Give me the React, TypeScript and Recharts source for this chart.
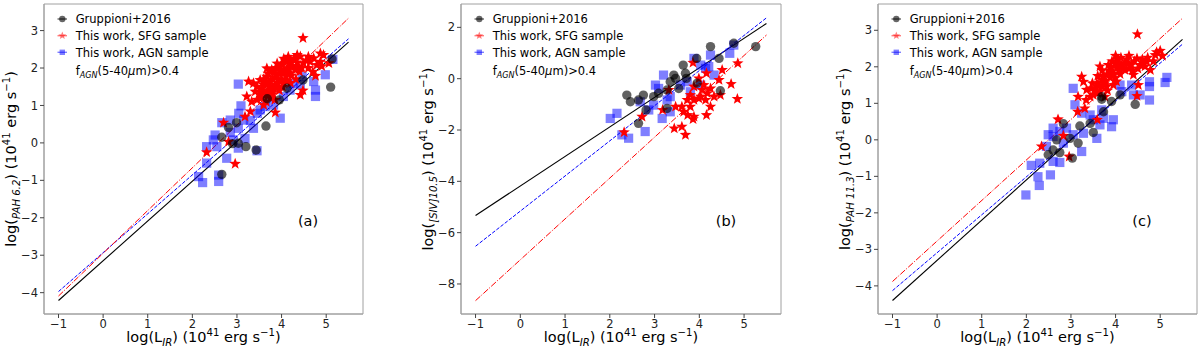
import React from 'react';
import { ComposedChart, Scatter, XAxis, YAxis, ReferenceLine, ReferenceArea } from 'recharts';

type P = [number, number];

// ---------- Panel (a): PAH 6.2 ----------
const gruppioniA: P[] = [
  [5.13, 2.24], [5.1, 1.49], [4.48, 1.68], [4.12, 1.46], [3.95, 1.15], [3.68, 1.18], [3.65, 0.45],
  [2.99, 0.54], [2.81, 0.41], [2.66, 0.15], [3.03, -0.01], [3.2, -0.1], [3.43, -0.19], [2.66, -0.84], [2.9, -0.02],
];
const sfgA: P[] = [
  [4.48, 2.8], [3.26, 1.64], [3.22, 1.24], [3.18, 0.7], [3.3, 0.84], [3.67, 1.99], [2.7, 0.54], [2.32, -0.25],
  [2.96, -0.56], [2.81, 0.03], [4.42, 1.28], [4.48, 1.4], [3.86, 0.81], [4.76, 1.79], [4.94, 2.35], [4.87, 2.17],
  [4.79, 2.08], [4.64, 2.17], [4.42, 2.31], [4.38, 2.04], [4.19, 2.13], [4.04, 1.86], [3.93, 1.68], [3.75, 1.5],
  [3.6, 1.33], [3.45, 1.15], [3.37, 1.59], [3.52, 1.68], [3.67, 1.77], [3.82, 1.9], [3.97, 2.04], [4.12, 2.17],
  [4.27, 2.22], [3.9, 1.5], [4.04, 1.59], [3.78, 1.28], [3.41, 1.37], [3.33, 1.1], [3.6, 1.01], [4.19, 1.86],
  [4.31, 1.95], [4.49, 2.13], [4.72, 2.26], [4.87, 2.39], [5.06, 2.13], [3.85, 1.75], [3.95, 1.85], [4.05, 1.95],
  [4.15, 2.0], [3.75, 1.65], [3.7, 1.4], [3.85, 1.55], [4.0, 1.7], [4.1, 1.78], [4.25, 2.05], [3.6, 1.55],
  [3.95, 1.4], [4.2, 1.6], [3.55, 1.2], [3.65, 1.1], [4.35, 2.15], [4.6, 2.0], [4.7, 1.9], [4.9, 2.05], [3.8, 1.35],
  [3.5, 1.3], [3.55, 1.45], [3.6, 1.7], [3.65, 1.6], [3.7, 1.85], [3.72, 1.5], [3.78, 1.95], [3.8, 1.7],
  [3.82, 1.45], [3.88, 2.0], [3.9, 1.8], [3.92, 1.6], [3.98, 1.95], [4.0, 2.1], [4.02, 1.5], [4.08, 2.2],
  [4.1, 1.9], [4.12, 1.65], [4.18, 2.05], [4.22, 1.8], [4.28, 2.25], [4.32, 1.7], [4.4, 1.9], [4.45, 2.0],
  [4.55, 2.2], [3.68, 1.25], [3.75, 1.2], [3.85, 1.15], [3.58, 1.4], [3.45, 1.5], [4.15, 2.3], [4.35, 2.35],
  [4.6, 2.3], [4.05, 2.25], [3.9, 2.12],
];
const agnA: P[] = [
  [3.03, 1.57], [3.09, 0.99], [3.04, 0.79], [2.85, 0.61], [2.66, 0.54], [2.51, 0.21], [2.85, 0.28], [3.03, 0.39],
  [3.15, 0.61], [3.37, 0.39], [3.3, 0.6], [3.46, 0.79], [3.63, 0.97], [3.97, 0.66], [2.32, -0.1], [2.55, -0.1],
  [2.77, -0.41], [3.03, -0.14], [2.32, -0.54], [2.14, -0.9], [2.23, -1.06], [2.59, -1.03], [2.59, -0.86],
  [3.45, -0.21], [3.18, 0.12], [4.27, 1.59], [4.46, 1.77], [4.72, 1.64], [4.76, 1.41], [4.76, 1.24], [4.98, 1.82],
  [5.15, 2.23], [3.82, 1.01], [4.04, 1.24], [4.19, 1.41], [4.42, 1.55], [3.52, 0.88], [2.92, 0.08], [2.47, 0.08],
];
const fitBlackA: P = [-4.21, 2.69];
const fitBlueA: P = [-3.97, 2.78];
const fitRedA: P = [-4.09, 3.33];

// ---------- Panel (b): [SIV] 10.5 ----------
const gruppioniB: P[] = [
  [4.25, 1.25], [4.77, 1.38], [5.26, 1.25], [4.44, 0.79], [3.94, 0.79], [3.64, 0.53], [3.43, 0.14], [3.71, 0.01],
  [3.54, -0.38], [3.95, -0.18], [4.47, -0.47], [3.28, -0.44], [3.09, -0.57], [2.75, -0.64], [2.64, -0.83],
  [2.38, -0.64], [2.46, -0.9], [2.81, -1.22], [2.64, -1.74], [3.28, -1.16], [3.35, -0.12], [3.69, 0.21],
  [2.98, -0.7], [3.47, 0.01],
];
const sfgB: P[] = [
  [3.86, 0.62], [4.86, 0.6], [4.51, 0.34], [4.16, 0.21], [3.99, 0.01], [4.44, -0.05], [4.71, -0.21], [4.1, -0.25],
  [3.88, -0.31], [4.06, -0.44], [4.25, -0.38], [4.33, -0.7], [4.47, -0.64], [4.85, -0.79], [4.25, -1.09],
  [4.03, -0.7], [3.88, -0.83], [3.73, -0.83], [3.61, -1.09], [3.47, -1.09], [3.65, -1.29], [3.74, -1.42],
  [3.88, -1.48], [3.86, -1.58], [4.16, -1.42], [3.44, -1.94], [3.61, -1.87], [3.69, -2.19], [3.18, -1.22],
  [2.72, -1.48], [2.32, -2.09], [3.32, -0.44], [3.8, -0.64], [3.99, -0.77], [4.14, -0.83], [4.18, -0.57], [3.8, -1.09],
];
const agnB: P[] = [
  [4.25, 0.92], [4.68, 0.99], [4.77, 1.31], [3.88, 0.79], [4.03, 0.53], [4.21, 0.47], [4.33, 0.14], [3.2, 0.14],
  [3.02, -0.25], [3.58, -0.25], [3.8, -0.51], [3.35, -0.7], [2.98, -1.03], [2.68, -0.9], [2.87, -1.22],
  [3.17, -1.55], [3.35, -1.29], [2.01, -1.55], [2.16, -1.35], [2.79, -2.06], [2.27, -2.19], [2.42, -2.32],
  [3.73, -0.12], [4.03, -0.25], [4.14, 0.4], [3.09, -0.38], [3.28, -0.83],
];
const fitBlackB: P = [-5.33, 2.15];
const fitBlueB: P = [-6.53, 2.37];
const fitRedB: P = [-8.65, 1.7];

// ---------- Panel (c): PAH 11.3 ----------
const gruppioniC: P[] = [
  [4.44, 0.97], [4.1, 1.23], [3.69, 1.11], [3.91, 1.05], [3.73, 0.77], [3.43, 0.45], [3.5, 0.2], [3.2, 0.38],
  [2.83, 0.44], [2.68, 0.0], [2.98, 0.04], [3.16, -0.09], [2.75, -0.35], [2.49, -0.41], [3.03, -0.5], [2.6, -0.28],
  [3.69, 1.18],
];
const sfgC: P[] = [
  [4.49, 2.89], [5.0, 2.44], [4.89, 2.32], [4.7, 2.14], [4.48, 2.23], [4.29, 2.1], [4.14, 2.05], [4.03, 1.96],
  [3.91, 1.87], [3.8, 1.78], [3.69, 1.64], [3.58, 1.55], [3.46, 1.41], [3.35, 1.37], [3.65, 2.01], [3.84, 2.05],
  [4.06, 2.19], [4.21, 1.91], [4.4, 1.78], [3.99, 1.69], [3.8, 1.46], [3.65, 1.32], [3.5, 1.23], [3.76, 1.18],
  [3.95, 1.5], [3.28, 1.59], [3.24, 1.73], [3.16, 1.18], [3.34, 1.09], [3.31, 0.86], [3.15, 0.77], [3.59, 0.55],
  [2.71, 0.56], [2.83, 0.11], [2.34, -0.18], [2.96, -0.46], [4.48, 1.2], [4.78, 1.91], [4.51, 1.5], [4.66, 2.01],
  [3.43, 1.18], [3.9, 2.0], [4.1, 1.8], [4.2, 2.1], [3.7, 1.9], [4.0, 2.1], [4.3, 1.95], [4.55, 2.05],
  [3.6, 1.75], [3.75, 1.55], [4.6, 2.2], [4.85, 2.15], [5.05, 2.3],
  [3.55, 1.4], [3.62, 1.5], [3.7, 1.45], [3.72, 1.72], [3.78, 1.62], [3.85, 1.9], [3.88, 1.7], [3.92, 2.15],
  [3.95, 1.8], [4.02, 1.6], [4.05, 2.0], [4.08, 1.88], [4.12, 2.25], [4.18, 1.95], [4.25, 2.2], [4.35, 2.05],
  [4.38, 1.9], [4.42, 2.15], [4.5, 1.95], [4.62, 2.1], [4.72, 2.25], [4.92, 2.4], [3.6, 1.28], [3.82, 1.35],
  [3.48, 1.55], [3.52, 1.35], [4.3, 2.3], [4.0, 2.3],
];
const agnC: P[] = [
  [5.15, 1.71], [5.11, 1.57], [4.76, 1.59], [4.76, 1.46], [4.76, 1.09], [4.55, 1.23], [4.4, 1.23], [4.14, 1.32],
  [4.1, 1.5], [4.36, 1.5], [3.05, 1.41], [3.09, 0.96], [3.24, 0.73], [3.43, 0.68], [3.5, 0.55], [3.73, 0.59],
  [3.95, 0.55], [3.91, 0.36], [3.58, 0.04], [3.28, 0.18], [3.05, 0.14], [2.9, 0.32], [2.75, 0.23], [2.6, 0.32],
  [2.49, 0.14], [2.6, 0.09], [3.24, -0.32], [2.6, -0.59], [2.75, -0.62], [2.3, -0.64], [2.11, -0.7], [2.26, -1.01],
  [2.54, -0.96], [2.29, -1.25], [1.99, -1.51], [2.45, -0.18], [2.83, -0.09], [3.65, 0.41], [3.69, 0.82],
];
const fitBlackC: P = [-4.4, 2.75];
const fitBlueC: P = [-4.13, 2.62];
const fitRedC: P = [-3.88, 3.33];

// ---------- shared ----------
const fitX: P = [-1, 5.5];
const xDomain: P = [-1.325, 5.825];
const xTicks = [-1, 0, 1, 2, 3, 4, 5];
const yTicksA = [-4, -3, -2, -1, 0, 1, 2, 3];
const yTicksB = [-8, -6, -4, -2, 0, 2];
const yTicksC = [-4, -3, -2, -1, 0, 1, 2, 3];
const legendLabels = ['Gruppioni+2016', 'This work, SFG sample', 'This work, AGN sample'];
const panelLetters = ['(a)', '(b)', '(c)'];
const ySubs = ['PAH 6.2', '[SIV]10.5', 'PAH 11.3'];

const FONT = "'DejaVu Sans', sans-serif";
const toObj = (a: P[]) => a.map(([x, y]) => ({ x, y }));

const starPath = (cx: number, cy: number, R: number, r: number) => {
  let d = '';
  for (let i = 0; i < 10; i++) {
    const rad = i % 2 === 0 ? R : r;
    const ang = -Math.PI / 2 + (i * Math.PI) / 5;
    d += (i === 0 ? 'M' : 'L') + (cx + rad * Math.cos(ang)).toFixed(2) + ',' + (cy + rad * Math.sin(ang)).toFixed(2);
  }
  return d + 'Z';
};

const CircleShape = (p: any) => <circle cx={p.cx} cy={p.cy} r={4.7} fill="#000" fillOpacity={0.62} />;
const SquareShape = (p: any) => (
  <rect x={p.cx - 4.6} y={p.cy - 4.6} width={9.2} height={9.2} fill="#0000ff" fillOpacity={0.5} />
);
const StarShape = (p: any) => <path d={starPath(p.cx, p.cy, 6, 2.5)} fill="#ff0000" />;

const fmt = (v: number) => (v < 0 ? `\u2212${Math.abs(v)}` : `${v}`);

type Part = { t: string; k?: 'sub' | 'sup'; i?: boolean };
const Rich = ({ parts, fs }: { parts: Part[]; fs: number }) => {
  let cur = 0;
  return (
    <>
      {parts.map((p, idx) => {
        const target = p.k === 'sub' ? 0.28 * fs : p.k === 'sup' ? -0.42 * fs : 0;
        const dy = target - cur;
        cur = target;
        return (
          <tspan
            key={idx}
            dy={dy}
            fontSize={p.k ? fs * 0.7 : fs}
            fontStyle={p.i ? 'italic' : 'normal'}
          >
            {p.t}
          </tspan>
        );
      })}
    </>
  );
};

type Panel = {
  plotLeft: number;
  plotRight: number;
  yDomain: P;
  yTicks: number[];
  gr: P[];
  sfg: P[];
  agn: P[];
  black: P;
  blue: P;
  red: P;
  sub: string;
  letter: string;
};

const panels: Panel[] = [
  { plotLeft: 44, plotRight: 363, yDomain: [-4.57, 3.71], yTicks: yTicksA, gr: gruppioniA, sfg: sfgA, agn: agnA,
    black: fitBlackA, blue: fitBlueA, red: fitRedA, sub: ySubs[0], letter: panelLetters[0] },
  { plotLeft: 461, plotRight: 781, yDomain: [-9.17, 2.91], yTicks: yTicksB, gr: gruppioniB, sfg: sfgB, agn: agnB,
    black: fitBlackB, blue: fitBlueB, red: fitRedB, sub: ySubs[1], letter: panelLetters[1] },
  { plotLeft: 878, plotRight: 1197, yDomain: [-4.77, 3.72], yTicks: yTicksC, gr: gruppioniC, sfg: sfgC, agn: agnC,
    black: fitBlackC, blue: fitBlueC, red: fitRedC, sub: ySubs[2], letter: panelLetters[2] },
];

const PLOT_TOP = 4;
const PLOT_BOTTOM = 314;
const H = 351;
const YAXIS_W = 30;
const XAXIS_H = 30;

const PanelChart = ({ p }: { p: Panel }) => {
  const plotW = p.plotRight - p.plotLeft;
  const chartLeft = p.plotLeft - 44;
  const width = 44 + plotW + 3;
  const tickStyle = { fill: '#222', fontSize: 11.5, fontFamily: FONT };
  return (
    <div style={{ position: 'absolute', left: chartLeft, top: 0 }}>
      <ComposedChart
        width={width}
        height={H}
        margin={{ top: PLOT_TOP, right: 3, bottom: H - PLOT_BOTTOM - XAXIS_H, left: 44 - YAXIS_W }}
      >
        <XAxis
          type="number"
          dataKey="x"
          domain={xDomain}
          allowDataOverflow
          ticks={xTicks}
          tickFormatter={fmt}
          height={XAXIS_H}
          tick={tickStyle}
          tickSize={4}
          tickLine={{ stroke: '#444' }}
          axisLine={{ stroke: '#a0a0a0' }}
        />
        <YAxis
          type="number"
          dataKey="y"
          domain={p.yDomain}
          allowDataOverflow
          ticks={p.yTicks}
          tickFormatter={fmt}
          width={YAXIS_W}
          tick={tickStyle}
          tickSize={4}
          tickLine={{ stroke: '#444' }}
          axisLine={{ stroke: '#a0a0a0' }}
        />
        <ReferenceArea
          x1={xDomain[0]}
          x2={xDomain[1]}
          y1={p.yDomain[0]}
          y2={p.yDomain[1]}
          fill="none"
          fillOpacity={0}
          stroke="#a0a0a0"
          strokeWidth={1}
        />
        <Scatter data={toObj(p.agn)} shape={SquareShape} isAnimationActive={false} />
        <Scatter data={toObj(p.sfg)} shape={StarShape} isAnimationActive={false} />
        <Scatter data={toObj(p.gr)} shape={CircleShape} isAnimationActive={false} />
        <ReferenceLine
          segment={[{ x: fitX[0], y: p.black[0] }, { x: fitX[1], y: p.black[1] }]}
          stroke="#000"
          strokeWidth={1.1}
        />
        <ReferenceLine
          segment={[{ x: fitX[0], y: p.blue[0] }, { x: fitX[1], y: p.blue[1] }]}
          stroke="#0000ff"
          strokeWidth={1}
          strokeDasharray="3.7 1.6"
        />
        <ReferenceLine
          segment={[{ x: fitX[0], y: p.red[0] }, { x: fitX[1], y: p.red[1] }]}
          stroke="#ff0000"
          strokeWidth={1}
          strokeDasharray="6.4 1.6 1 1.6"
        />
      </ComposedChart>
    </div>
  );
};

const Overlay = () => {
  const fsL = 14.5;
  const fsLeg = 11.5;
  return (
    <svg width={1200} height={H} style={{ position: 'absolute', left: 0, top: 0, pointerEvents: 'none' }}>
      {panels.map((p, idx) => {
        const cx = (p.plotLeft + p.plotRight) / 2;
        const cy = (PLOT_TOP + PLOT_BOTTOM) / 2;
        const yl = p.plotLeft - 28;
        const lx = p.plotLeft;
        const rows = [19, 35.7, 52.3];
        return (
          <g key={idx} fontFamily={FONT} fill="#000">
            <text x={yl} y={cy} textAnchor="middle" transform={`rotate(-90 ${yl} ${cy})`} fontSize={fsL}>
              <Rich
                fs={fsL}
                parts={[
                  { t: 'log(' },
                  { t: p.sub, k: 'sub', i: true },
                  { t: ') (10' },
                  { t: '41', k: 'sup' },
                  { t: ' erg s' },
                  { t: '\u22121', k: 'sup' },
                  { t: ')' },
                ]}
              />
            </text>
            <text x={cx} y={342} textAnchor="middle" fontSize={fsL}>
              <Rich
                fs={fsL}
                parts={[
                  { t: 'log(L' },
                  { t: 'IR', k: 'sub', i: true },
                  { t: ') (10' },
                  { t: '41', k: 'sup' },
                  { t: ' erg s' },
                  { t: '\u22121', k: 'sup' },
                  { t: ')' },
                ]}
              />
            </text>
            <text x={p.plotRight - 55} y={226} textAnchor="middle" fontSize={fsL}>
              {p.letter}
            </text>
            <g>
              <line x1={lx + 13.5} x2={lx + 23} y1={rows[0]} y2={rows[0]} stroke="#000" strokeOpacity={0.6} strokeWidth={1.4} />
              <circle cx={lx + 18.3} cy={rows[0]} r={3.2} fill="#000" fillOpacity={0.6} />
              <line x1={lx + 13.5} x2={lx + 23} y1={rows[1]} y2={rows[1]} stroke="#ff0000" strokeOpacity={0.5} strokeWidth={1.4} />
              <path d={starPath(lx + 18.3, rows[1], 4.2, 1.8)} fill="#ff0000" fillOpacity={0.5} />
              <line x1={lx + 13.5} x2={lx + 23} y1={rows[2]} y2={rows[2]} stroke="#0000ff" strokeOpacity={0.5} strokeWidth={1.4} />
              <rect x={lx + 15.6} y={rows[2] - 2.7} width={5.4} height={5.4} fill="#0000ff" fillOpacity={0.5} />
              {legendLabels.map((t, i) => (
                <text key={i} x={lx + 31.7} y={rows[i] + 4.2} fontSize={fsLeg}>
                  {t}
                </text>
              ))}
              <text x={lx + 31.7} y={74.5} fontSize={fsLeg}>
                <Rich
                  fs={fsLeg}
                  parts={[
                    { t: 'f' },
                    { t: 'AGN', k: 'sub', i: true },
                    { t: '(5-40' },
                    { t: '\u03bc', i: true },
                    { t: 'm)>0.4' },
                  ]}
                />
              </text>
            </g>
          </g>
        );
      })}
    </svg>
  );
};

export default function App() {
  return (
    <div
      style={{
        position: 'absolute',
        left: 0,
        top: 0,
        width: 1200,
        height: H,
        background: '#fff',
        overflow: 'hidden',
        fontFamily: FONT,
      }}
    >
      {panels.map((p, i) => (
        <PanelChart key={i} p={p} />
      ))}
      <Overlay />
    </div>
  );
}
